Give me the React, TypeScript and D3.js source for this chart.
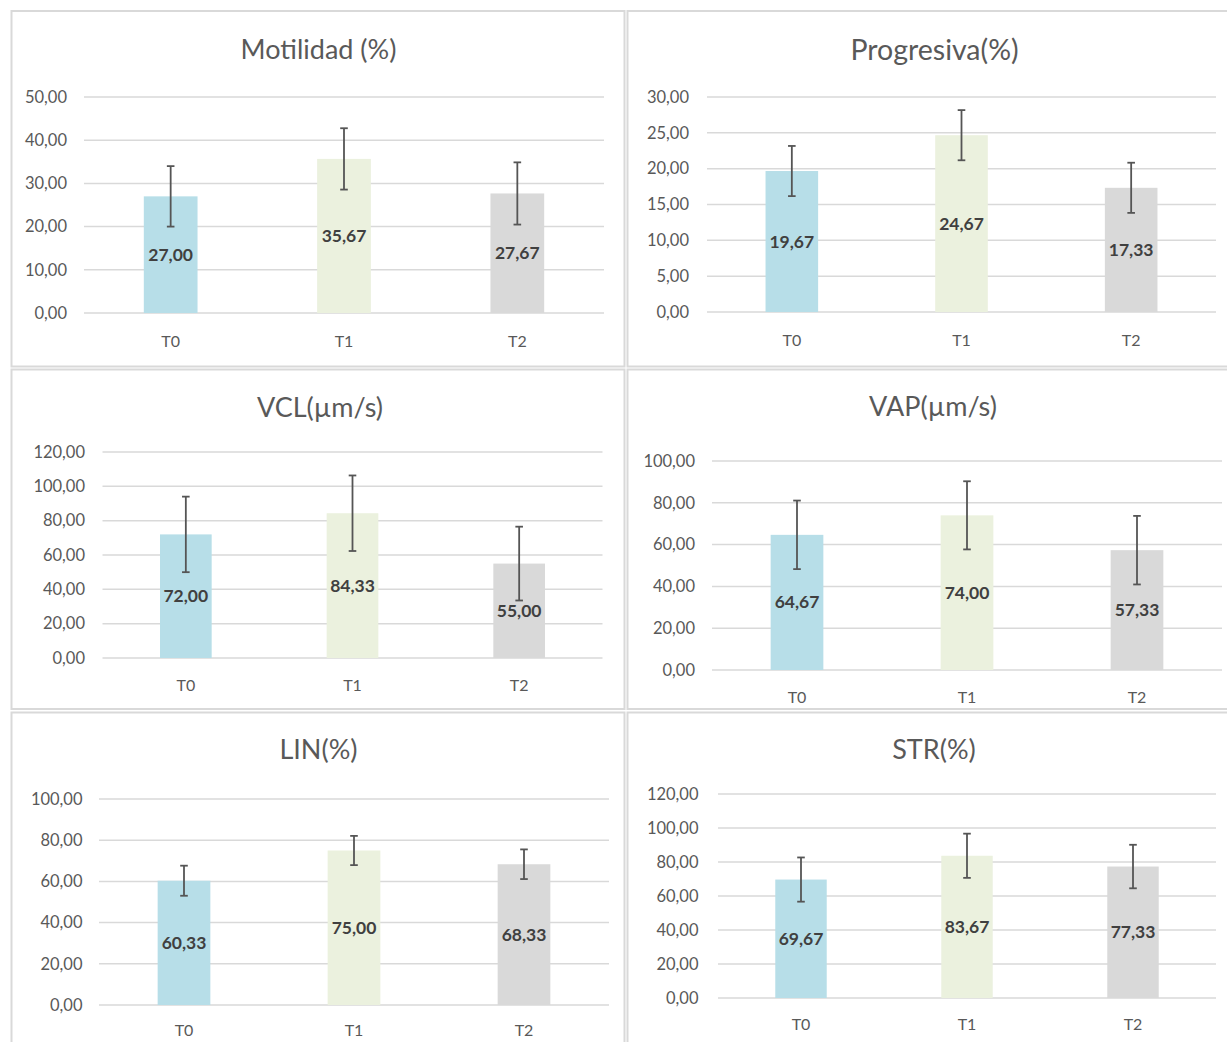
import React from "react";
import * as d3 from "d3";

// ---------- DATA ----------
const categories = ["T0", "T1", "T2"];
const titles = ["Motilidad (%)", "Progresiva(%)", "VCL(µm/s)", "VAP(µm/s)", "LIN(%)", "STR(%)"];
const motilidad = [27.0, 35.67, 27.67];
const motilidadErr = [7.0, 7.1, 7.2];
const progresiva = [19.67, 24.67, 17.33];
const progresivaErr = [3.5, 3.5, 3.5];
const vcl = [72.0, 84.33, 55.0];
const vclErr = [22.0, 22.0, 21.5];
const vap = [64.67, 74.0, 57.33];
const vapErr = [16.4, 16.3, 16.4];
const lin = [60.33, 75.0, 68.33];
const linErr = [7.3, 7.1, 7.2];
const str = [69.67, 83.67, 77.33];
const strErr = [13.0, 13.0, 12.8];
const yMaxes = [50, 30, 120, 100, 100, 120];
const ySteps = [10, 5, 20, 20, 20, 20];

const seriesValues = [motilidad, progresiva, vcl, vap, lin, str];
const seriesErrors = [motilidadErr, progresivaErr, vclErr, vapErr, linErr, strErr];

// ---------- LAYOUT / STYLE ----------
const barColors = ["#b7dee8", "#ebf1de", "#d9d9d9"];
const layouts = [
  { box: [11.5, 11, 624.5, 366.5], x0: 84, x1: 604, yBase: 313, yTop: 97, titleX: 318.5, titleY: 59, titleSize: 27, tickX: 67, xLabY: 346.5 },
  { box: [627.5, 11, 1232, 366.5], x0: 707, x1: 1216, yBase: 312, yTop: 97, titleX: 934.5, titleY: 60, titleSize: 28.5, tickX: 689, xLabY: 346 },
  { box: [11.5, 369.5, 624.5, 709], x0: 102.5, x1: 602.5, yBase: 658, yTop: 452, titleX: 320, titleY: 416.5, titleSize: 27, tickX: 85, xLabY: 691 },
  { box: [627.5, 369.5, 1232, 709], x0: 712, x1: 1222, yBase: 670, yTop: 461, titleX: 933, titleY: 416, titleSize: 27, tickX: 695, xLabY: 703 },
  { box: [11.5, 712.5, 624.5, 1050], x0: 99, x1: 609, yBase: 1005, yTop: 799, titleX: 318.5, titleY: 759, titleSize: 27, tickX: 82.5, xLabY: 1036 },
  { box: [627.5, 712.5, 1232, 1050], x0: 718, x1: 1216, yBase: 998, yTop: 794, titleX: 934, titleY: 759, titleSize: 27, tickX: 698.5, xLabY: 1030 },
];

const FONT = "Lato, 'Open Sans', sans-serif";
const fmt = (v: number) => d3.format(".2f")(v).replace(".", ",");

function Panel({ idx }: { idx: number }) {
  const L = layouts[idx];
  const values = seriesValues[idx];
  const errs = seriesErrors[idx];
  const x = d3.scaleBand<string>().domain(categories).range([L.x0, L.x1]).paddingInner(0.69).paddingOuter(0.345);
  const y = d3.scaleLinear().domain([0, yMaxes[idx]]).range([L.yBase, L.yTop]);
  const ticks = d3.range(0, yMaxes[idx] + ySteps[idx] / 2, ySteps[idx]);
  const [bx0, by0, bx1, by1] = L.box;
  const cap = 3.8;
  const errColor = "#555555";
  return (
    <g>
      <rect x={bx0} y={by0} width={bx1 - bx0} height={by1 - by0} fill="#ffffff" stroke="#d9d9d9" strokeWidth={2} />
      <text x={L.titleX} y={L.titleY} textAnchor="middle" fontFamily={FONT} fontSize={L.titleSize} fill="#595959">
        {titles[idx]}
      </text>
      {ticks.map((t) => (
        <g key={t}>
          <line x1={L.x0} x2={L.x1} y1={y(t)} y2={y(t)} stroke="#d9d9d9" strokeWidth={1.5} />
          <text x={L.tickX} y={y(t) + 5.8} textAnchor="end" fontFamily={FONT} fontSize={16.5} fill="#595959">
            {fmt(t)}
          </text>
        </g>
      ))}
      {categories.map((c, i) => {
        const bx = x(c) as number;
        const bw = x.bandwidth();
        const cx = bx + bw / 2;
        const top = y(values[i]);
        const hi = y(values[i] + errs[i]);
        const lo = y(values[i] - errs[i]);
        return (
          <g key={c}>
            <rect x={bx} y={top} width={bw} height={y(0) - top} fill={barColors[i]} />
            <line x1={cx} x2={cx} y1={hi} y2={lo} stroke={errColor} strokeWidth={1.8} />
            <line x1={cx - cap} x2={cx + cap} y1={hi} y2={hi} stroke={errColor} strokeWidth={1.8} />
            <line x1={cx - cap} x2={cx + cap} y1={lo} y2={lo} stroke={errColor} strokeWidth={1.8} />
            <text x={cx} y={(top + y(0)) / 2 + 6} textAnchor="middle" fontFamily={FONT} fontWeight={700} fontSize={17.5} fill="#404040">
              {fmt(values[i])}
            </text>
            <text x={cx} y={L.xLabY} textAnchor="middle" fontFamily={FONT} fontSize={16} fill="#595959">
              {c}
            </text>
          </g>
        );
      })}
    </g>
  );
}

export default function App() {
  return (
    <svg
      width={1227}
      height={1042}
      style={{ position: "absolute", left: 0, top: 0, background: "#ffffff" }}
      xmlns="http://www.w3.org/2000/svg"
    >
      <rect x={0} y={0} width={1227} height={1042} fill="#ffffff" />
      {titles.map((_, i) => (
        <Panel key={i} idx={i} />
      ))}
    </svg>
  );
}
